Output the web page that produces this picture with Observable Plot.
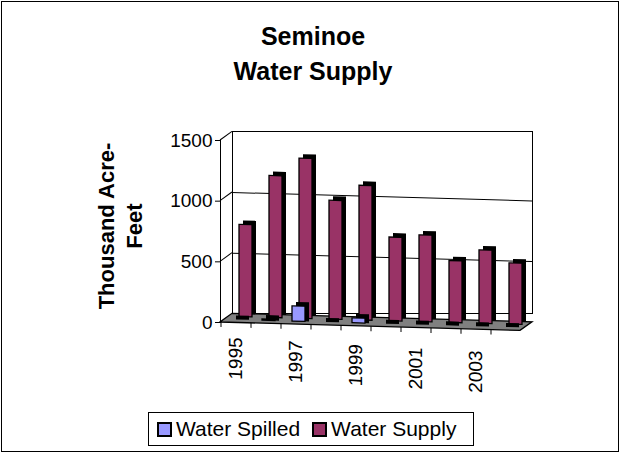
<!DOCTYPE html>
<html><head><meta charset="utf-8">
<script src="https://cdn.jsdelivr.net/npm/d3@7"></script>
<script src="https://cdn.jsdelivr.net/npm/@observablehq/plot@0.6"></script>
<style>
body{margin:0;background:#fff;font-family:"Liberation Sans",Arial,sans-serif;color:#000;}
#page{position:relative;width:621px;height:455px;overflow:hidden;background:#fff;}
#border{position:absolute;left:1px;top:1px;width:616px;height:449px;border:1px solid #000;}
#title{position:absolute;left:0;width:626px;top:19px;text-align:center;font-weight:bold;font-size:25px;line-height:35px;}
#ylabel{position:absolute;left:121px;top:226px;transform:translate(-50%,-50%) rotate(-90deg);white-space:nowrap;text-align:center;font-weight:bold;font-size:22px;line-height:28px;}
#chart{position:absolute;left:0;top:90px;}
#legend{position:absolute;left:148px;top:412px;width:324px;height:32px;border:1px solid #000;display:flex;align-items:center;font-size:21px;white-space:nowrap;}
.sw{display:inline-block;width:11px;height:11px;border:2px solid #000;margin:0 4px 0 8px;}
</style></head>
<body>
<div id="page">
  <div id="border"></div>
  <div id="title">Seminoe<br>Water Supply</div>
  <div id="ylabel">Thousand Acre-<br>Feet</div>
  <div id="chart"></div>
  <div id="legend"></div>
</div>
<script>
const years = [1995, 1996, 1997, 1998, 1999, 2000, 2001, 2002, 2003, 2004];
const waterSupply = [760, 1170, 1320, 980, 1110, 690, 715, 510, 605, 505];
const waterSpilled = [0, 10, 125, 0, 40, 0, 0, 0, 0, 0];
const yTicks = [0, 500, 1000, 1500];
const yearLabels = [1995, 1997, 1999, 2001, 2003];
const seriesNames = ["Water Spilled", "Water Supply"];
const seriesColors = ["#9999FF", "#993366"];

const rows = years.map((year, i) => ({year, supply: waterSupply[i], spilled: waterSpilled[i]}));

const D = 4;        // bar depth
const WX = 12, WY = -9; // wall depth
const chart = Plot.plot({
  width: 621, height: 320,
  marginLeft: 220, marginRight: 101, marginTop: 50, marginBottom: 88,
  style: {fontFamily: "Liberation Sans, Arial, sans-serif", fontSize: "18px", background: "transparent", overflow: "visible", color: "black"},
  x: {type: "band", domain: years, paddingInner: 0.567, paddingOuter: 0.283, axis: null},
  y: {domain: [0, 1500], axis: null},
  marks: [
    Plot.frame({dx: WX, dy: WY, stroke: "black"}),
    Plot.gridY(yTicks.slice(1, 3), {dx: WX, dy: WY, stroke: "black", strokeOpacity: 1}),
    Plot.barY(rows, {x: "year", y: "supply", fill: "black", dx: 10 + D, dy: -6, insetTop: -D}),
    Plot.barY(rows, {x: "year", y: "supply", fill: seriesColors[1], stroke: "black", strokeWidth: 1.3, dx: 10, dy: -6}),
    Plot.barY(rows, {x: "year", y: "spilled", fill: "black", dx: 3 + D, dy: -3, insetTop: -D}),
    Plot.barY(rows, {x: "year", y: "spilled", fill: seriesColors[0], stroke: "black", strokeWidth: 1.3, dx: 3, dy: -3}),
    Plot.axisX(years, {tickSize: 5, tickFormat: () => "", dx: -15, label: null}),
    Plot.axisX(yearLabels, {tickRotate: -90, tickSize: 0, tickPadding: 14, tickFormat: d => String(d), fontSize: 19, label: null}),
    Plot.frame({anchor: "left", stroke: "black"}),
    Plot.axisY(yTicks, {tickSize: 5, tickPadding: 3, tickFormat: d => String(d), fontSize: 19, label: null})
  ]
});
document.getElementById("chart").appendChild(chart);

// 3D decoration using the plot's own scales
const xs = chart.scale("x"), ys = chart.scale("y");
const [xa, xb] = xs.range;
const y0 = ys.apply(0);
const skew = s => `translate(${xa},0) matrix(1,${s},0,1,0,0) translate(${-xa},0)`;
const groups = Array.from(chart.children).filter(n => n.tagName.toLowerCase() === "g");
const NS = "http://www.w3.org/2000/svg";
const deco = document.createElementNS(NS, "g");
const floor = document.createElementNS(NS, "polygon");
floor.setAttribute("points", [[xa, y0], [xb, y0], [xb + WX, y0 + WY], [xa + WX, y0 + WY]].map(p => p.join(",")).join(" "));
floor.setAttribute("fill", "#808080");
floor.setAttribute("stroke", "black");
floor.setAttribute("stroke-width", "1.3");
deco.appendChild(floor);
yTicks.slice(1).forEach(v => {
  const l = document.createElementNS(NS, "line");
  const yy = ys.apply(v);
  l.setAttribute("x1", xa); l.setAttribute("y1", yy);
  l.setAttribute("x2", xa + WX); l.setAttribute("y2", yy + WY);
  l.setAttribute("stroke", "black");
  deco.appendChild(l);
});
deco.setAttribute("transform", skew(0.028));
chart.insertBefore(deco, groups[2]);
for (let i = 0; i <= 6; i++) groups[i].setAttribute("transform", skew(0.028) + " " + (groups[i].getAttribute("transform") || ""));
groups[7].setAttribute("transform", skew(0.055) + " " + (groups[7].getAttribute("transform") || ""));

// legend
const legend = document.getElementById("legend");
seriesNames.forEach((name, i) => {
  const sw = document.createElement("span");
  sw.className = "sw";
  sw.style.background = seriesColors[i];
  if (i > 0) sw.style.marginLeft = "12px";
  legend.appendChild(sw);
  legend.appendChild(document.createTextNode(name));
});
</script>
</body></html>
